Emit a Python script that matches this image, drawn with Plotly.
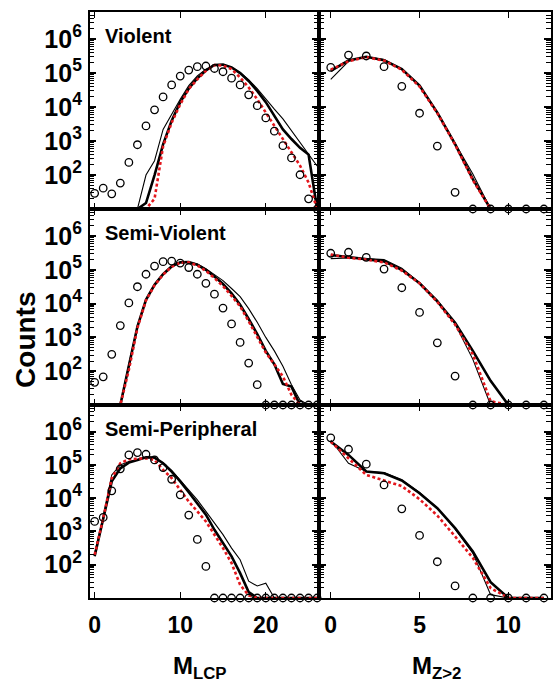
import plotly.graph_objects as go

# ---------------- data ----------------
x_lcp = list(range(0, 27))
x_z2 = list(range(0, 13))

# Violent
v_lcp_exp = [29, 41, 28, 58, 235, 780, 2800, 8300, 20000, 45000, 82000, 123000, 155000, 162000, 137000,
             110000, 71000, 45000, 23000, 11000, 4800, 1950, 730, 320, 102, 20, 10]
v_lcp_thick = [10, 10, 10, 10, 10, 10, 15, 100, 800, 4000, 14000, 35000, 71000, 120000, 174000,
               178000, 148000, 100000, 59000, 30000, 14000, 5600, 2200, 1150, 630, 400, 10]
v_lcp_thin = [10, 10, 10, 10, 10, 10, 100, 265, 2200, 6200, 17000, 43000, 83000, 130000, 174000,
              178000, 150000, 105000, 63000, 35000, 17000, 8700, 4500, 2000, 900, 400, 185]
v_lcp_red = [10, 10, 10, 10, 10, 10, 10, 20, 700, 3500, 12000, 34000, 66000, 117000, 174000,
             166000, 132000, 74000, 38000, 17000, 7000, 2800, 1150, 470, 190, 60, 10]

v_z2_exp = [147000, 340000, 320000, 155000, 41000, 6600, 710, 31, 10, 10, 10, 10, 10]
v_z2_thick = [117000, 234000, 302000, 240000, 132000, 43000, 6900, 810, 76, 10, 10, 10, 10]
v_z2_thin = [66000, 224000, 302000, 251000, 132000, 43000, 6900, 850, 107, 10, 10, 10, 10]
v_z2_red = [126000, 224000, 295000, 234000, 126000, 40000, 6600, 790, 71, 10, 10, 10, 10]

# Semi-Violent
sv_lcp_exp = [47, 68, 316, 2240, 10500, 31600, 74000, 129000, 174000, 182000, 158000, 117000, 74000,
              40000, 19000, 7400, 2500, 710, 174, 40, 10, 10, 10, 10, 10, 10, 10]
sv_lcp_thick = [10, 10, 10, 10, 145, 2100, 13000, 36000, 74000, 126000, 166000, 170000, 141000,
                100000, 63000, 38000, 20000, 9300, 3500, 1260, 400, 160, 42, 35, 10, 10, 10]
sv_lcp_thin = [10, 10, 10, 10, 160, 2200, 13500, 37000, 76000, 128000, 166000, 170000, 148000,
               107000, 72000, 48000, 28000, 16000, 7100, 2800, 1000, 400, 140, 40, 14, 10, 10]
sv_lcp_red = [10, 10, 10, 10, 110, 1900, 12500, 35000, 72000, 123000, 162000, 166000, 135000,
              93000, 57000, 33000, 17000, 8300, 3000, 1000, 355, 160, 70, 20, 10, 10, 10]

sv_z2_exp = [309000, 331000, 234000, 105000, 29500, 5500, 690, 72, 10, 10, 10, 10, 10]
sv_z2_thick = [275000, 234000, 204000, 178000, 100000, 40000, 11700, 2700, 400, 52, 10, 10, 10]
sv_z2_thin = [214000, 224000, 214000, 200000, 112000, 42000, 12600, 2500, 224, 10, 10, 10, 10]
sv_z2_red = [282000, 229000, 200000, 166000, 95000, 40000, 11200, 2400, 316, 13, 10, 10, 10]

# Semi-Peripheral
sp_lcp_exp = [2000, 2630, 16600, 76000, 200000, 234000, 209000, 141000, 83000, 37000, 12600, 3100, 575,
              89, 10, 10, 10, 10, 10, 10, 10, 10, 10, 10, 10, 10, 10]
sp_lcp_thick = [180, 2240, 32000, 79000, 117000, 141000, 170000, 166000, 112000, 63000, 32000, 15000,
                7100, 3200, 1120, 450, 178, 56, 15, 10, 10, 10, 10, 10, 10, 10, 10]
sp_lcp_thin = [224, 2800, 50000, 100000, 126000, 141000, 166000, 158000, 117000, 68000, 35000, 17800,
               8900, 4000, 1800, 800, 316, 141, 32, 23, 28, 10, 10, 10, 10, 10, 10]
sp_lcp_red = [200, 2500, 40000, 112000, 148000, 151000, 158000, 141000, 71000, 40000, 17800, 7900,
              4000, 2000, 800, 316, 112, 25, 12, 10, 10, 10, 10, 10, 10, 10, 10]

sp_z2_exp = [650000, 295000, 105000, 25000, 4800, 760, 123, 23, 10, 10, 10, 10, 10]
sp_z2_thick = [500000, 200000, 63000, 56000, 34000, 14000, 5000, 1260, 250, 30, 10, 10, 10]
sp_z2_thin = [560000, 112000, 63000, 59000, 35000, 14800, 5000, 1200, 224, 12.6, 10, 10, 10]
sp_z2_red = [500000, 158000, 50000, 34000, 23000, 9300, 3000, 710, 160, 20, 10, 10, 10]

panel_names = ["Violent", "Semi-Violent", "Semi-Peripheral"]
y_tick_vals = [1e2, 1e3, 1e4, 1e5, 1e6]
y_tick_text = ["10<sup>2</sup>", "10<sup>3</sup>", "10<sup>4</sup>", "10<sup>5</sup>", "10<sup>6</sup>"]
x_lcp_ticks = [0, 10, 20]
x_z2_ticks = [0, 5, 10]

panels = [
    [(v_lcp_exp, v_lcp_thick, v_lcp_thin, v_lcp_red), (v_z2_exp, v_z2_thick, v_z2_thin, v_z2_red)],
    [(sv_lcp_exp, sv_lcp_thick, sv_lcp_thin, sv_lcp_red), (sv_z2_exp, sv_z2_thick, sv_z2_thin, sv_z2_red)],
    [(sp_lcp_exp, sp_lcp_thick, sp_lcp_thin, sp_lcp_red), (sp_z2_exp, sp_z2_thick, sp_z2_thin, sp_z2_red)],
]

# ---------------- layout geometry ----------------
W, H = 553, 684
FONT = "Liberation Sans, Arial, Helvetica, sans-serif"


def pxx(v):
    return v / W


def pxy(v):
    return 1 - v / H


row_px = [(12, 209), (209, 405), (405, 598)]
col_px = [(89, 319), (319, 552)]
x_ranges = [[-0.58, 26.2], [-0.67, 12.4]]
y_range = [1.0, 6.8]
minor_vals = [m * 10 ** e for e in range(1, 7) for m in range(2, 10) if m * 10 ** e <= 10 ** 6.8]

fig = go.Figure()
layout = dict(
    width=W, height=H,
    margin=dict(l=0, r=0, t=0, b=0),
    paper_bgcolor="white", plot_bgcolor="white",
    showlegend=False,
)

for r in range(3):
    for c in range(2):
        k = r * 2 + c + 1
        xs = x_lcp if c == 0 else x_z2
        exp, thick, thin, red = panels[r][c]
        xa = "x" if k == 1 else f"x{k}"
        ya = "y" if k == 1 else f"y{k}"
        fig.add_trace(go.Scatter(x=xs, y=thin, xaxis=xa, yaxis=ya, mode="lines",
                                 line=dict(color="black", width=1.1), cliponaxis=False))
        fig.add_trace(go.Scatter(x=xs, y=thick, xaxis=xa, yaxis=ya, mode="lines",
                                 line=dict(color="black", width=2.6), cliponaxis=False))
        fig.add_trace(go.Scatter(x=xs, y=red, xaxis=xa, yaxis=ya, mode="lines",
                                 line=dict(color="#e3161c", width=2.6, dash="3px,2.5px"), cliponaxis=False))
        fig.add_trace(go.Scatter(x=xs, y=exp, xaxis=xa, yaxis=ya, mode="markers",
                                 marker=dict(symbol="circle-open", size=7.5, color="black",
                                             line=dict(width=1.3, color="black")),
                                 cliponaxis=False))

        top, bot = row_px[r]
        left, right = col_px[c]
        xkey = "xaxis" if k == 1 else f"xaxis{k}"
        ykey = "yaxis" if k == 1 else f"yaxis{k}"
        layout[xkey] = dict(
            domain=[pxx(left), pxx(right)], anchor=ya, range=x_ranges[c],
            tickmode="array", tickvals=x_lcp_ticks if c == 0 else x_z2_ticks,
            showticklabels=(r == 2), ticks="inside", ticklen=6, tickwidth=1.4, tickcolor="black",
            showline=True, linecolor="black", linewidth=1.6, mirror="allticks",
            showgrid=False, zeroline=False,
            tickfont=dict(family=FONT, size=23, color="black", weight="bold"),
            ticklabelstandoff=6,
        )
        layout[ykey] = dict(
            domain=[pxy(bot), pxy(top)], anchor=xa, type="log", range=y_range,
            tickmode="array", tickvals=y_tick_vals, ticktext=y_tick_text,
            showticklabels=(c == 0), ticks="inside", ticklen=7, tickwidth=1.5, tickcolor="black",
            minor=dict(tickmode="array", tickvals=minor_vals, ticks="inside", ticklen=5,
                       tickwidth=1.3, tickcolor="black", showgrid=False),
            showline=True, linecolor="black", linewidth=1.6, mirror="allticks",
            showgrid=False, zeroline=False,
            tickfont=dict(family=FONT, size=25, color="black", weight="bold"),
            ticklabelstandoff=1,
        )

annotations = []
for r in range(3):
    top, bot = row_px[r]
    annotations.append(dict(
        text=f"<b>{panel_names[r]}</b>", x=pxx(102), y=pxy(top + 11), xref="paper", yref="paper",
        xanchor="left", yanchor="top", showarrow=False,
        font=dict(family=FONT, size=20, color="black")))

annotations.append(dict(
    text="<b>Counts</b>", x=pxx(25), y=pxy(340), xref="paper", yref="paper", textangle=-90,
    xanchor="center", yanchor="middle", showarrow=False,
    font=dict(family=FONT, size=28, color="black")))
annotations.append(dict(
    text="<b>M<sub>LCP</sub></b>", x=pxx(200), y=pxy(667), xref="paper", yref="paper",
    xanchor="center", yanchor="middle", showarrow=False,
    font=dict(family=FONT, size=24, color="black")))
annotations.append(dict(
    text="<b>M<sub>Z>2</sub></b>", x=pxx(437), y=pxy(667), xref="paper", yref="paper",
    xanchor="center", yanchor="middle", showarrow=False,
    font=dict(family=FONT, size=24, color="black")))
layout["annotations"] = annotations

fig.update_layout(**layout)
fig.write_html("out.html")
